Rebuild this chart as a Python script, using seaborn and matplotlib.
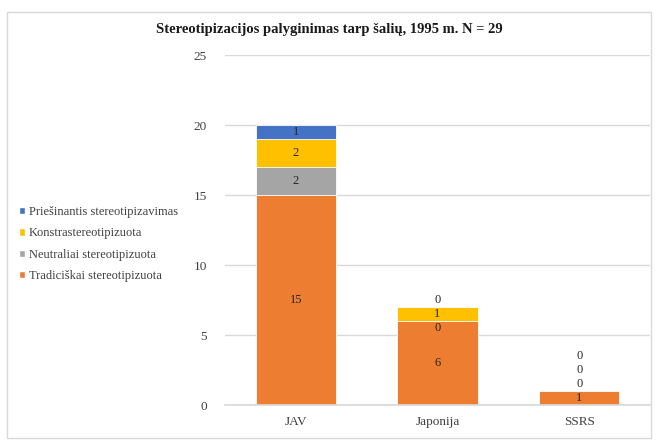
import numpy as np
import pandas as pd
import matplotlib
matplotlib.use("Agg")
import matplotlib.pyplot as plt
import seaborn as sns
from matplotlib.patches import Patch, Rectangle

# data
countries = ["JAV", "Japonija", "SSRS"]
tradiciskai = [15, 6, 1]
neutraliai = [2, 0, 0]
konstra = [2, 1, 0]
priesinantis = [1, 0, 0]

series_names = ["Tradiciškai stereotipizuota", "Neutraliai stereotipizuota",
                "Konstrastereotipizuota", "Priešinantis stereotipizavimas"]
colors = ["#ED7D31", "#A5A5A5", "#FFC000", "#4472C4"]

sns.set_theme(style="white")
plt.rcParams["font.family"] = ["Liberation Serif", "DejaVu Serif"]

layers = np.array([tradiciskai, neutraliai, konstra, priesinantis])
cum = layers.cumsum(axis=0)

fig = plt.figure(figsize=(6.59, 4.41), dpi=100)
ax = fig.add_axes([225 / 659, 1 - 405 / 441, 425 / 659, 350 / 441])

# draw from the top layer down so lower ones cover the upper totals
for i in range(len(layers) - 1, -1, -1):
    df = pd.DataFrame({"country": countries, "value": cum[i]})
    sns.barplot(data=df, x="country", y="value", color=colors[i], saturation=1,
                width=0.565, edgecolor="white", linewidth=0.6, ax=ax)

# data labels: nonzero ones centered in their segment, zero ones moved
# to the nearest free spot (roughly like Excel does it)
gap = 1.0
for j in range(len(countries)):
    placed = []
    for i in range(len(layers)):
        if layers[i][j] > 0:
            placed.append(cum[i][j] - layers[i][j] / 2)
    for i in range(len(layers)):
        v = layers[i][j]
        if v > 0:
            y = cum[i][j] - v / 2
        else:
            y0 = cum[i][j]
            cands = np.arange(0.3, 24.5, 0.05)
            ok = [c for c in cands if all(abs(c - p) >= gap - 1e-9 for p in placed)]
            y = min(ok, key=lambda c: abs(c - y0))
            placed.append(y)
        ax.text(j, y, str(v), ha="center", va="center", fontsize=9, color="#262626")

ax.set_ylim(0, 25)
ax.set_yticks(range(0, 26, 5))
ax.set_xlabel("")
ax.set_ylabel("")
ax.yaxis.grid(True, color="#D9D9D9", linewidth=1)
ax.set_axisbelow(True)
for s in ["top", "right", "left"]:
    ax.spines[s].set_visible(False)
ax.spines["bottom"].set_color("#D9D9D9")
ax.tick_params(axis="both", length=0, labelsize=9.5, colors="#404040")
ax.tick_params(axis="y", pad=13)
ax.tick_params(axis="x", pad=8)

fig.text(0.5, 1 - 30 / 441, "Stereotipizacijos palyginimas tarp šalių, 1995 m. N = 29",
         ha="center", va="center", fontsize=10.5, fontweight="bold", color="#1a1a1a")

handles = [Patch(facecolor=colors[i], label=series_names[i]) for i in range(3, -1, -1)]
fig.legend(handles=handles, loc="upper left", bbox_to_anchor=(14 / 659, 1 - 201 / 441),
           frameon=False, fontsize=9, handlelength=0.5, handleheight=0.5,
           handletextpad=0.3, labelspacing=0.75, borderaxespad=0, labelcolor="#404040")

fig.patches.append(Rectangle((7 / 659, 3 / 441), 644 / 659, 426 / 441,
                             transform=fig.transFigure, fill=False,
                             edgecolor="#D9D9D9", linewidth=1))

fig.savefig("out.png", dpi=100)
